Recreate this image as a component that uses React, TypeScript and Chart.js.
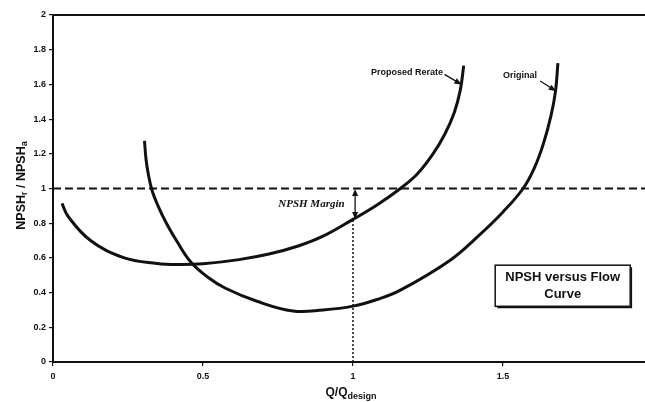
import React, { useEffect, useRef } from "react";
import { Chart, registerables } from "chart.js";

Chart.register(...registerables);

// ---- data ----
const proposedX = [0.03, 0.05, 0.124, 0.235, 0.347, 0.42, 0.5, 0.62, 0.72, 0.82, 0.9, 1.0, 1.08, 1.158, 1.215, 1.265, 1.305, 1.338, 1.358, 1.369];
const proposedY = [0.914, 0.84, 0.702, 0.602, 0.568, 0.562, 0.566, 0.59, 0.622, 0.67, 0.725, 0.822, 0.905, 1.0, 1.085, 1.195, 1.31, 1.44, 1.57, 1.708];

const originalX = [0.305, 0.31, 0.318, 0.33, 0.35, 0.378, 0.415, 0.46, 0.515, 0.575, 0.68, 0.8, 0.9, 1.0, 1.08, 1.158, 1.324, 1.42, 1.5, 1.567, 1.605, 1.635, 1.66, 1.675, 1.683];
const originalY = [1.275, 1.17, 1.08, 0.99, 0.9, 0.8, 0.69, 0.575, 0.49, 0.425, 0.35, 0.294, 0.3, 0.322, 0.36, 0.414, 0.587, 0.73, 0.865, 1.0, 1.12, 1.26, 1.42, 1.56, 1.722];

const xTicks = [0, 0.5, 1, 1.5, 2];
const yTicks = [0, 0.2, 0.4, 0.6, 0.8, 1, 1.2, 1.4, 1.6, 1.8, 2];

const marginLevel = 1;
const designFlow = 1;
const proposedAtDesign = 0.822;

const seriesNames = ["Proposed Rerate", "Original"];
const xTitleParts = [{ t: "Q/Q" }, { t: "design", sub: true }];
const yTitleParts = [{ t: "NPSH" }, { t: "r", sub: true }, { t: " / NPSH" }, { t: "a", sub: true }];
const boxLines = ["NPSH versus Flow", "Curve"];
const marginText = "NPSH Margin";

// ---- helpers ----
type Part = { t: string; sub?: boolean };

function drawRich(ctx: CanvasRenderingContext2D, parts: Part[], cx: number, cy: number, size: number, subSize: number) {
  const mainFont = `bold ${size}px "Liberation Sans", Arial, sans-serif`;
  const subFont = `bold ${subSize}px "Liberation Sans", Arial, sans-serif`;
  let total = 0;
  const widths = parts.map((p) => {
    ctx.font = p.sub ? subFont : mainFont;
    const w = ctx.measureText(p.t).width;
    total += w;
    return w;
  });
  let x = cx - total / 2;
  ctx.textAlign = "left";
  ctx.textBaseline = "alphabetic";
  const base = cy + size * 0.36;
  parts.forEach((p, i) => {
    ctx.font = p.sub ? subFont : mainFont;
    ctx.fillText(p.t, x, p.sub ? base + size * 0.2 : base);
    x += widths[i];
  });
}

function arrowHead(ctx: CanvasRenderingContext2D, x1: number, y1: number, x2: number, y2: number, len: number, half: number) {
  const a = Math.atan2(y2 - y1, x2 - x1);
  ctx.beginPath();
  ctx.moveTo(x2, y2);
  ctx.lineTo(x2 - len * Math.cos(a) + half * Math.sin(a), y2 - len * Math.sin(a) - half * Math.cos(a));
  ctx.lineTo(x2 - len * Math.cos(a) - half * Math.sin(a), y2 - len * Math.sin(a) + half * Math.cos(a));
  ctx.closePath();
  ctx.fill();
}

function arrow(ctx: CanvasRenderingContext2D, x1: number, y1: number, x2: number, y2: number) {
  ctx.beginPath();
  ctx.moveTo(x1, y1);
  ctx.lineTo(x2, y2);
  ctx.stroke();
  arrowHead(ctx, x1, y1, x2, y2, 7, 3);
}

const decorPlugin = {
  id: "decor",
  afterDatasetsDraw(chart: any) {
    const { ctx, chartArea, scales } = chart;
    const xs = scales.x;
    const ys = scales.y;
    const px = (v: number) => xs.getPixelForValue(v);
    const py = (v: number) => ys.getPixelForValue(v);
    ctx.save();
    ctx.fillStyle = "#111";
    ctx.strokeStyle = "#111";

    // top frame line
    ctx.lineWidth = 2;
    ctx.beginPath();
    ctx.moveTo(chartArea.left, chartArea.top);
    ctx.lineTo(chartArea.right, chartArea.top);
    ctx.stroke();

    // NPSH margin double arrow
    const ax = px(designFlow + 0.007);
    const ay1 = py(marginLevel);
    const ay2 = py(proposedAtDesign);
    ctx.lineWidth = 1.3;
    ctx.beginPath();
    ctx.moveTo(ax, ay1 + 5);
    ctx.lineTo(ax, ay2 - 5);
    ctx.stroke();
    arrowHead(ctx, ax, ay2, ax, ay1 + 0.5, 7, 3);
    arrowHead(ctx, ax, ay1, ax, ay2 - 0.5, 7, 3);

    // NPSH Margin text
    ctx.font = `italic bold 11px "Liberation Serif", "Times New Roman", serif`;
    ctx.textAlign = "right";
    ctx.textBaseline = "middle";
    ctx.fillText(marginText, px(0.972), py(0.91));

    // series labels with arrows
    ctx.font = `bold 9px "Liberation Sans", Arial, sans-serif`;
    ctx.textBaseline = "middle";
    ctx.textAlign = "right";
    ctx.fillText(seriesNames[0], px(1.30), py(1.666));
    ctx.lineWidth = 1.3;
    arrow(ctx, px(1.305), py(1.658), px(1.361), py(1.6));
    ctx.textAlign = "left";
    ctx.fillText(seriesNames[1], px(1.5), py(1.65));
    arrow(ctx, px(1.624), py(1.62), px(1.676), py(1.562));

    // box
    const bl = px(1.474), br = px(1.924), bt = py(0.558), bb = py(0.321);
    ctx.fillStyle = "#fff";
    ctx.fillRect(bl, bt, br - bl, bb - bt);
    ctx.fillStyle = "#111";
    ctx.lineWidth = 1.5;
    ctx.strokeRect(bl, bt, br - bl, bb - bt);
    ctx.lineWidth = 1.2;
    ctx.beginPath();
    ctx.moveTo(bl + 2, bb + 1.3);
    ctx.lineTo(br + 1.3, bb + 1.3);
    ctx.lineTo(br + 1.3, bt + 2);
    ctx.stroke();
    ctx.font = `bold 13px "Liberation Sans", Arial, sans-serif`;
    ctx.textAlign = "center";
    ctx.textBaseline = "middle";
    const bc = (bl + br) / 2;
    ctx.fillText(boxLines[0], bc, bt + 12);
    ctx.fillText(boxLines[1], bc, bt + 29);

    // axis titles
    const midX = (chartArea.left + chartArea.right) / 2;
    drawRich(ctx, xTitleParts as Part[], midX - 2, 392, 12, 9);
    ctx.save();
    ctx.translate(20, (chartArea.top + chartArea.bottom) / 2 - 3);
    ctx.rotate(-Math.PI / 2);
    drawRich(ctx, yTitleParts as Part[], 0, 0, 12.5, 9);
    ctx.restore();

    ctx.restore();
  },
};

const fmt = (v: number) => String(Math.round(v * 10) / 10);

export default function App() {
  const ref = useRef<HTMLCanvasElement | null>(null);
  useEffect(() => {
    if (!ref.current) return;
    const chart = new Chart(ref.current, {
      type: "line",
      data: {
        datasets: [
          {
            label: "margin",
            data: [{ x: xTicks[0], y: marginLevel }, { x: xTicks[xTicks.length - 1], y: marginLevel }],
            borderColor: "#111",
            borderWidth: 2,
            borderDash: [8, 4],
            pointRadius: 0,
          },
          {
            label: "design",
            data: [{ x: designFlow, y: 0 }, { x: designFlow, y: proposedAtDesign }],
            borderColor: "#111",
            borderWidth: 1.5,
            borderDash: [2, 2],
            pointRadius: 0,
          },
          {
            label: seriesNames[0],
            data: proposedX.map((x, i) => ({ x, y: proposedY[i] })),
            borderColor: "#111",
            borderWidth: 3,
            pointRadius: 0,
            tension: 0.4,
          },
          {
            label: seriesNames[1],
            data: originalX.map((x, i) => ({ x, y: originalY[i] })),
            borderColor: "#111",
            borderWidth: 3,
            pointRadius: 0,
            tension: 0.4,
          },
        ],
      },
      options: {
        responsive: false,
        animation: false,
        layout: { padding: { left: 0, top: 15, right: 12, bottom: 0 } },
        plugins: { legend: { display: false }, tooltip: { enabled: false } },
        scales: {
          x: {
            type: "linear",
            min: 0,
            max: 2,
            afterBuildTicks: (s: any) => {
              s.ticks = xTicks.map((v) => ({ value: v }));
            },
            afterFit: (s: any) => {
              s.height = 40;
            },
            ticks: {
              autoSkip: false,
              maxRotation: 0,
              padding: 5,
              color: "#111",
              font: { family: '"Liberation Sans", Arial, sans-serif', size: 9, weight: "bold" },
              callback: (v: any) => fmt(Number(v)),
            },
            grid: { drawOnChartArea: false, tickLength: 4, color: "#111", lineWidth: 1.2 },
            border: { display: true, color: "#111", width: 2 },
          },
          y: {
            type: "linear",
            min: 0,
            max: 2,
            afterBuildTicks: (s: any) => {
              s.ticks = yTicks.map((v) => ({ value: v }));
            },
            afterFit: (s: any) => {
              s.width = 53;
            },
            ticks: {
              autoSkip: false,
              padding: 3,
              color: "#111",
              font: { family: '"Liberation Sans", Arial, sans-serif', size: 9, weight: "bold" },
              callback: (v: any) => fmt(Number(v)),
            },
            grid: { drawOnChartArea: false, tickLength: 4, color: "#111", lineWidth: 1.2 },
            border: { display: true, color: "#111", width: 2 },
          },
        },
      } as any,
      plugins: [decorPlugin],
    });
    return () => chart.destroy();
  }, []);
  return (
    <div style={{ position: "fixed", left: 0, top: 0, width: 645, height: 402, overflow: "hidden", background: "#fff" }}>
      <canvas ref={ref} width={665} height={402} style={{ width: 665, height: 402, display: "block" }} />
    </div>
  );
}
